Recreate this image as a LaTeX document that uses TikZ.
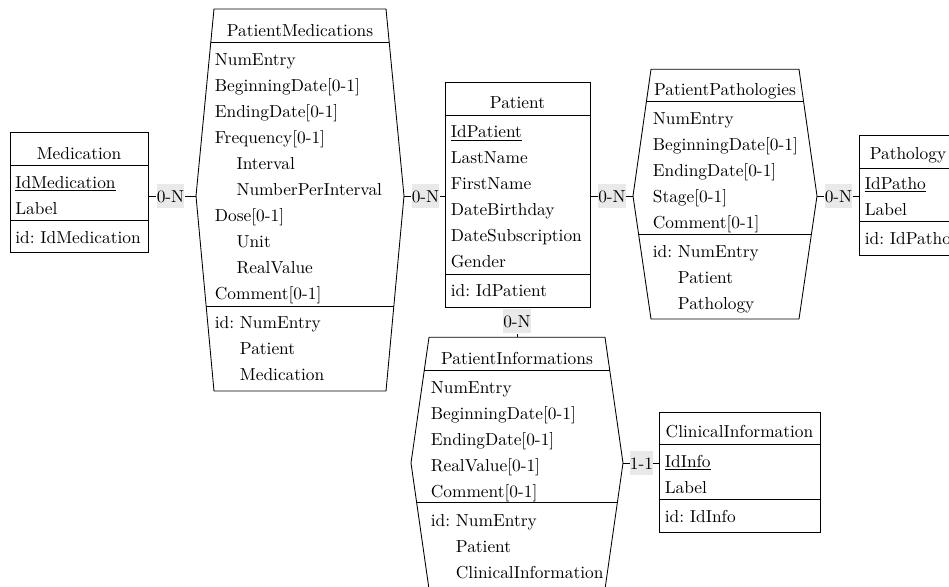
\documentclass[tikz,border=0pt]{standalone}
\newcommand\mysub{\hspace*{12.5pt}}
\newcommand\myid{\phantom{id: }}
\frenchspacing
\begin{document}
\begin{tikzpicture}[x=0.5764pt,y=-0.5764pt,
  ent/.style={line width=0.5pt},
  lnk/.style={line width=0.5pt},
  row/.style={anchor=west,inner sep=0pt,text height=7pt,text depth=0pt},
  ttl/.style={inner sep=0pt,text height=7pt,text depth=0pt},
  card/.style={fill=gray!17,inner xsep=0pt,inner ysep=0pt,minimum height=14.4pt,text height=7pt,text depth=0pt}]
\useasboundingbox (0,0) rectangle (949,586);
\clip (0,0) rectangle (949,586);

% Medication
\draw[ent] (10,132.7) rectangle (148,252);
\draw[ent] (10,165.7) -- (148,165.7);
\draw[ent] (10,220) -- (148,220);
\node[ttl] (med-t) at (79,153) {Medication};
\foreach \t [count=\i from 0] in {\underline{IdMedication},Label}
  \node[row] (med-r\i) at (15,182+26*\i) {\t};
\node[row] (med-id) at (15,237) {id: IdMedication};
\coordinate (medE) at (148,196);

% PatientMedications
\draw[ent] (214,9) -- (386,9) -- (404,196) -- (386,391) -- (214,391) -- (196,196) -- cycle;
\draw[ent] (210.76,42.7) -- (389.24,42.7);
\draw[ent] (206.15,306) -- (393.85,306);
\node[ttl] (pm-t) at (300,30) {PatientMedications};
\foreach \t [count=\i from 0] in {NumEntry,BeginningDate[0-1],EndingDate[0-1],Frequency[0-1],\mysub Interval,\mysub NumberPerInterval,Dose[0-1],\mysub Unit,\mysub RealValue,Comment[0-1]}
  \node[row] (pm-r\i) at (214.5,59+26*\i) {\t};
\foreach \t [count=\i from 0] in {id: NumEntry,\myid Patient,\myid Medication}
  \node[row] (pm-id\i) at (214.5,322+26*\i) {\t};
\coordinate (pmL) at (196,196);
\coordinate (pmR) at (404,196);

% Patient
\draw[ent] (445,82.7) rectangle (590,307);
\draw[ent] (445,115.7) -- (590,115.7);
\draw[ent] (445,274) -- (590,274);
\node[ttl] (pat-t) at (517.5,102.7) {Patient};
\foreach \t [count=\i from 0] in {\underline{IdPatient},LastName,FirstName,DateBirthday,DateSubscription,Gender}
  \node[row] (pat-r\i) at (450.5,131.7+26*\i) {\t};
\node[row] (pat-id) at (450.5,290) {id: IdPatient};
\coordinate (patW) at (445,196);
\coordinate (patE) at (590,196);
\coordinate (patS) at (517,307);

% PatientPathologies
\draw[ent] (651,69.3) -- (799,69.3) -- (817,196) -- (799,319) -- (651,319) -- (633,196) -- cycle;
\draw[ent] (646.4,101.7) -- (803.6,101.7);
\draw[ent] (638.6,234) -- (811.4,234);
\node[ttl] (pp-t) at (725,89) {PatientPathologies};
\foreach \t [count=\i from 0] in {NumEntry,BeginningDate[0-1],EndingDate[0-1],Stage[0-1],Comment[0-1]}
  \node[row] (pp-r\i) at (652.5,118+26*\i) {\t};
\foreach \t [count=\i from 0] in {id: NumEntry,\myid Patient,\myid Pathology}
  \node[row] (pp-id\i) at (652.5,251+26*\i) {\t};
\coordinate (ppL) at (633,196);
\coordinate (ppR) at (817,196);

% Pathology
\draw[ent] (859,135) rectangle (957,255);
\draw[ent] (859,168) -- (957,168);
\draw[ent] (859,221.7) -- (957,221.7);
\node[ttl] (path-t) at (908,153) {Pathology};
\foreach \t [count=\i from 0] in {\underline{IdPatho},Label}
  \node[row] (path-r\i) at (864.5,183+26*\i) {\t};
\node[row] (path-id) at (864.5,238) {id: IdPatho};
\coordinate (pathW) at (859,196);

% PatientInformations
\draw[ent] (429,337.3) -- (605,337.3) -- (623,463) -- (605,589) -- (429,589) -- (411,463) -- cycle;
\draw[ent] (424.2,370.7) -- (609.8,370.7);
\draw[ent] (416.7,502.7) -- (617.3,502.7);
\node[ttl] (pi-t) at (517,358.5) {PatientInformations};
\foreach \t [count=\i from 0] in {NumEntry,BeginningDate[0-1],EndingDate[0-1],RealValue[0-1],Comment[0-1]}
  \node[row] (pi-r\i) at (430.5,387.7+26*\i) {\t};
\foreach \t [count=\i from 0] in {id: NumEntry,\myid Patient,\myid ClinicalInformation}
  \node[row] (pi-id\i) at (430.5,520+26*\i) {\t};
\coordinate (piN) at (517,337.3);
\coordinate (piR) at (623,463);

% ClinicalInformation
\draw[ent] (659,412.3) rectangle (820,532);
\draw[ent] (659,444) -- (820,444);
\draw[ent] (659,499) -- (820,499);
\node[ttl] (ci-t) at (739.5,431.5) {ClinicalInformation};
\foreach \t [count=\i from 0] in {\underline{IdInfo},Label}
  \node[row] (ci-r\i) at (664.5,461+26*\i) {\t};
\node[row] (ci-id) at (664.5,516) {id: IdInfo};
\coordinate (ciW) at (659,463);

% cardinalities
\node[card] (c1) at (170.5,196) {0-N};
\node[card] (c2) at (425.5,196) {0-N};
\node[card] (c3) at (612,196) {0-N};
\node[card] (c4) at (838.5,196) {0-N};
\node[card] (c5) at (517,321) {0-N};
\node[card] (c6) at (641.5,463) {1-1};

\draw[lnk] (medE) -- (c1) -- (pmL);
\draw[lnk] (pmR) -- (c2) -- (patW);
\draw[lnk] (patE) -- (c3) -- (ppL);
\draw[lnk] (ppR) -- (c4) -- (pathW);
\draw[lnk] (patS) -- (c5) -- (piN);
\draw[lnk] (piR) -- (c6) -- (ciW);
\end{tikzpicture}
\end{document}
